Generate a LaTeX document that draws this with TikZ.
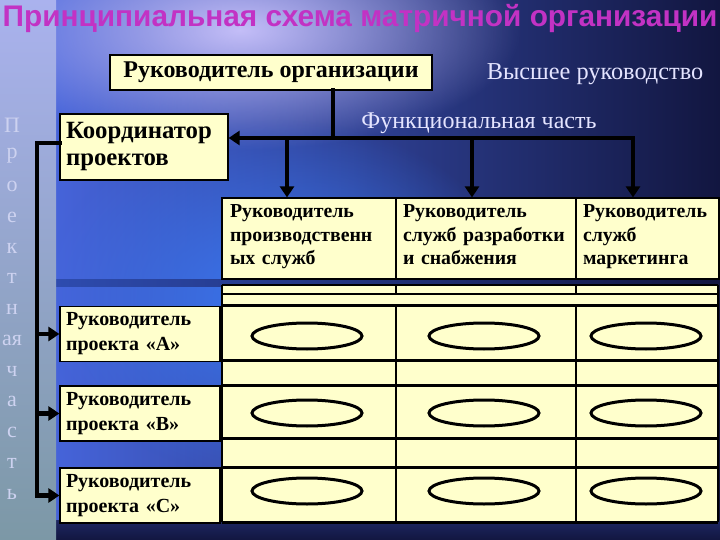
\documentclass[tikz,border=0pt]{standalone}
\usepackage{fontspec}
\setmainfont{Liberation Serif}
\newfontfamily\titlefont{Liberation Sans}
\usetikzlibrary{arrows.meta,fadings}

\definecolor{cream}{HTML}{FFFFCC}
\definecolor{titlepink}{HTML}{C232C4}
\definecolor{paletext}{HTML}{E4E4FF}
\definecolor{sidetext}{HTML}{CDD2F0}
\definecolor{bgleft}{HTML}{4A6AE6}
\definecolor{bgright}{HTML}{121640}
\definecolor{glow}{HTML}{C4BEF8}
\definecolor{midblue}{HTML}{3A78F2}
\definecolor{band}{HTML}{3050B8}
\definecolor{stripTop}{HTML}{AAB2EE}
\definecolor{stripBot}{HTML}{7C98A6}

\tikzfading[name=soft glow,inner color=transparent!0,outer color=transparent!100]

\begin{document}
\begin{tikzpicture}[x=1pt,y=-1pt,
        box/.style={draw=black,line width=1.2pt,fill=cream,inner sep=0pt},
        wire/.style={line width=4.5pt,line cap=rect},
        link/.style={line width=4.5pt,-{Triangle[length=11pt,width=14pt]}},
        oval/.style={draw=black,line width=3pt},
        bigbold/.style={font=\bfseries\fontsize{24}{27}\selectfont},
        smallbold/.style={font=\bfseries\fontsize{20}{25}\selectfont},
        hdcell/.style={box,minimum height=81pt,align=left,execute at end node=\strut,font=\bfseries\fontsize{19.8}{23.5}\selectfont}]

        \useasboundingbox (0,0) rectangle (720,540);
        \shade[left color=bgleft,right color=bgright] (0,0) rectangle (720,540);
        \fill[glow,path fading=soft glow] (-40,-90) rectangle (520,150);
        \fill[midblue,path fading=soft glow] (40,120) rectangle (520,480);
        \shade[top color=bgright!80!bgleft,bottom color=bgright] (56,520) rectangle (720,540);
        \shade[left color=band,right color=bgright] (0,279) rectangle (720,286);
        \shade[top color=stripTop,bottom color=stripBot] (0,0) rectangle (56,540);

        \node[anchor=base,font=\titlefont\bfseries\fontsize{29.8}{31}\selectfont,text=titlepink] (title) at (360,27) {Принципиальная схема матричной организации};

        \node[box,bigbold,minimum width=322pt,minimum height=35pt] (org) at (271,72.5) {Руководитель организации};
        \node[anchor=base,text=paletext,font=\fontsize{24.3}{27}\selectfont] (top) at (595,80) {Высшее руководство};
        \node[anchor=base,text=paletext,font=\fontsize{24}{27}\selectfont] (func) at (479,129) {Функциональная часть};

        \node[box,minimum width=168pt,minimum height=66pt,text width=156pt,align=left,font=\bfseries\fontsize{24.8}{27}\selectfont] (coord) at (144,147) {Координатор\\проектов};

        \node[box,smallbold,minimum width=160pt,minimum height=55pt,text width=148pt,align=left] (projA) at (140,334) {Руководитель\\проекта «А»};
        \node[box,smallbold,minimum width=160pt,minimum height=55pt,text width=148pt,align=left] (projB) at (140,413.5) {Руководитель\\проекта «В»};
        \node[box,smallbold,minimum width=160pt,minimum height=55pt,text width=148pt,align=left] (projC) at (140,495.5) {Руководитель\\проекта «С»};

        \node[hdcell,minimum width=174pt,text width=158pt] (hdProd) at (309,238.5) {Руководитель\\производственн\\ых служб};
        \node[hdcell,minimum width=180pt,text width=166pt] (hdDev) at (486,238.5) {Руководитель\\служб разработки\\и снабжения};
        \node[hdcell,minimum width=143pt,text width=129pt] (hdMark) at (647.5,238.5) {Руководитель\\служб\\маркетинга};

        \fill[cream] (222,285) rectangle (718,522);
        \draw[line width=1.2pt] (222,285) -- (718,285);
        \draw[line width=1.2pt] (222,294) -- (718,294);
        \foreach \y in {305,360,385,438,467,522}
            \draw[line width=3pt] (222,\y) -- (718,\y);
        \foreach \x in {396,576} {
            \draw[line width=2.2pt] (\x,285) -- (\x,294);
            \draw[line width=1.6pt] (\x,305) -- (\x,522);
        }
        \draw[line width=2.5pt] (222,285) -- (222,522);
        \draw[line width=1.2pt] (718,285) -- (718,522);

        \foreach \cy in {336,413,491}
            \foreach \cx in {307,484,646}
                \draw[oval] (\cx,\cy) ellipse [x radius=55pt,y radius=13pt];

        \coordinate (bus) at (333,138);
        \coordinate (dropP) at (287,138);
        \coordinate (dropD) at (472,138);
        \coordinate (dropM) at (633,138);
        \draw[wire] (bus |- org.south) -- (bus);
        \draw[link,line cap=rect] (dropM) -- (bus -| coord.east);
        \draw[link] (dropP) -- (dropP |- hdProd.north);
        \draw[link] (dropD) -- (dropD |- hdDev.north);
        \draw[link] (dropM) -- (dropM |- hdMark.north);

        \coordinate (rail) at (37,143);
        \draw[wire] (coord.west |- rail) -- (rail) -- (rail |- projC.west);
        \draw[link] (rail |- projA.west) -- (projA.west);
        \draw[link] (rail |- projB.west) -- (projB.west);
        \draw[link] (rail |- projC.west) -- (projC.west);

        \foreach \ch [count=\i from 0] in {П,р,о,е,к,т,н,ая,ч,а,с,т,ь}
            \node[text=sidetext,font=\fontsize{22}{24}\selectfont] (side\i) at (12,125+30.75*\i) {\ch};

    \end{tikzpicture}
\end{document}
